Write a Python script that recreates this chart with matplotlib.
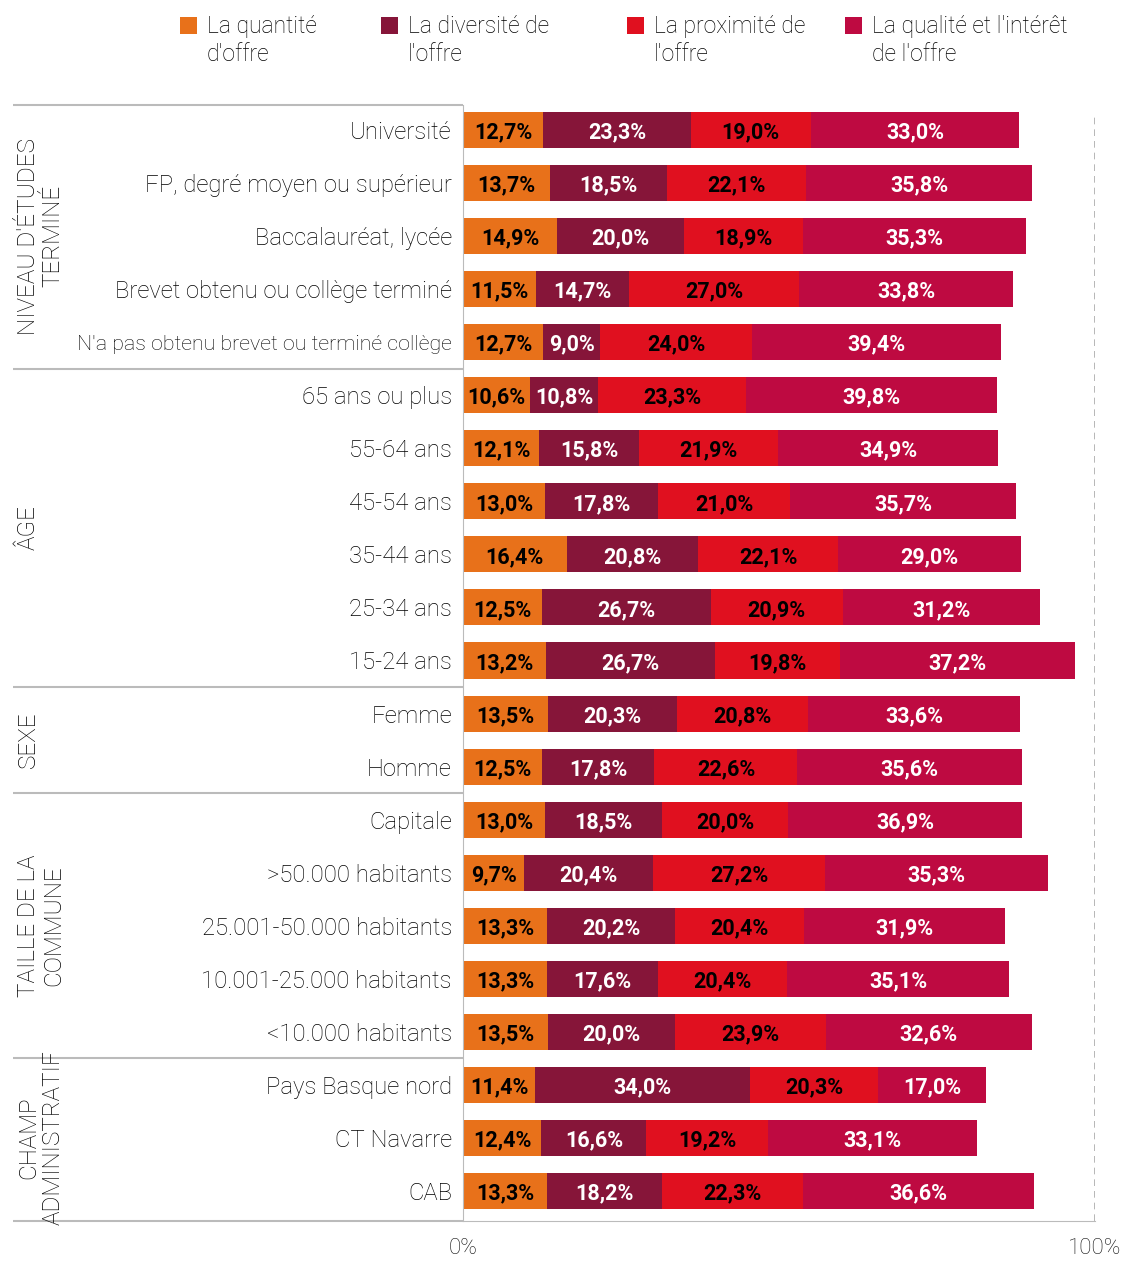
import matplotlib.pyplot as plt
from matplotlib.patches import Rectangle

categories = ["Université", "FP, degré moyen ou supérieur", "Baccalauréat, lycée",
              "Brevet obtenu ou collège terminé", "N'a pas obtenu brevet ou terminé collège",
              "65 ans ou plus", "55-64 ans", "45-54 ans", "35-44 ans", "25-34 ans", "15-24 ans",
              "Femme", "Homme",
              "Capitale", ">50.000 habitants", "25.001-50.000 habitants",
              "10.001-25.000 habitants", "<10.000 habitants",
              "Pays Basque nord", "CT Navarre", "CAB"]

quantite = [12.7, 13.7, 14.9, 11.5, 12.7, 10.6, 12.1, 13.0, 16.4, 12.5, 13.2,
            13.5, 12.5, 13.0, 9.7, 13.3, 13.3, 13.5, 11.4, 12.4, 13.3]
diversite = [23.3, 18.5, 20.0, 14.7, 9.0, 10.8, 15.8, 17.8, 20.8, 26.7, 26.7,
             20.3, 17.8, 18.5, 20.4, 20.2, 17.6, 20.0, 34.0, 16.6, 18.2]
proximite = [19.0, 22.1, 18.9, 27.0, 24.0, 23.3, 21.9, 21.0, 22.1, 20.9, 19.8,
             20.8, 22.6, 20.0, 27.2, 20.4, 20.4, 23.9, 20.3, 19.2, 22.3]
qualite = [33.0, 35.8, 35.3, 33.8, 39.4, 39.8, 34.9, 35.7, 29.0, 31.2, 37.2,
           33.6, 35.6, 36.9, 35.3, 31.9, 35.1, 32.6, 17.0, 33.1, 36.6]

series_names = ["La quantité\nd'offre", "La diversité de\nl'offre",
                "La proximité de\nl'offre", "La qualité et l'intérêt\nde l'offre"]
colors = ["#E8711A", "#861539", "#E0101F", "#BE0A41"]
text_colors = ["black", "white", "black", "white"]

groups = ["NIVEAU D'ÉTUDES\nTERMINÉ", "ÂGE", "SEXE", "TAILLE DE LA\nCOMMUNE", "CHAMP\nADMINISTRATIF"]
group_sizes = [5, 6, 2, 5, 3]

plt.rcParams['font.family'] = ['Roboto', 'DejaVu Sans']

fig = plt.figure(figsize=(11.27, 12.61), dpi=100)
W, H = 1127, 1261
ax = fig.add_axes([463 / W, 1 - 1221 / H, 632 / W, (1221 - 105) / H])

n = len(categories)
y = list(range(n))
left = [0] * n
for vals, col, tcol in zip([quantite, diversite, proximite, qualite], colors, text_colors):
    ax.barh(y, vals, left=left, height=0.68, color=col, edgecolor='none')
    for i, v in enumerate(vals):
        ax.text(left[i] + v / 2, i, f"{v:.1f}%".replace('.', ','), ha='center',
                va='center_baseline', color=tcol, fontsize=15.5, fontweight='bold')
    left = [l + v for l, v in zip(left, vals)]

ax.set_xlim(0, 100)
ax.set_ylim(20 + 30 / 53, -25 / 53)
ax.set_yticks(y)
ax.set_yticklabels(categories, fontsize=17.2, fontweight='light', color='#000000')
ax.get_yticklabels()[4].set_fontsize(15.4)
ax.tick_params(axis='y', length=0, pad=8)
ax.set_xticks([0, 100])
ax.set_xticklabels(["0%", "100%"], fontsize=16, fontweight='light', color='#111111')
ax.tick_params(axis='x', length=0, pad=12)

for s in ['top', 'right']:
    ax.spines[s].set_visible(False)
ax.spines['left'].set_color('#bbbbbb')
ax.spines['bottom'].set_color('#bbbbbb')
ax.axvline(100, ymin=0, ymax=0.99, color='#aaaaaa', linestyle=(0, (4, 3)), linewidth=1.2)

# group separators and labels
xleft = -450 / 632 * 100
start = 0
ax.hlines(-25 / 53, xleft, 0, color='#bbbbbb', linewidth=1.5, clip_on=False)
for g, size in zip(groups, group_sizes):
    end = start + size
    ysep = end - 0.5 if end < n else 20 + 30 / 53
    ax.hlines(ysep, xleft, 0, color='#bbbbbb', linewidth=1.5, clip_on=False)
    ax.text(-446 / 632 * 100, (start + end - 1) / 2, g, rotation=90, ha='left', va='center',
            multialignment='center', fontsize=17.5, fontweight='light', color='#000000',
            linespacing=1.1, clip_on=False)
    start = end

# legend drawn by hand so the squares line up with the first text line
leg_x = [180, 381, 627, 845]
for lx, name, col in zip(leg_x, series_names, colors):
    fig.patches.append(Rectangle((lx / W, 1 - 34 / H), 17 / W, 17 / H,
                                 transform=fig.transFigure, facecolor=col, edgecolor='none'))
    fig.text((lx + 27) / W, 1 - 15 / H, name, ha='left', va='top', fontsize=16.5,
             fontweight='light', color='#000000', linespacing=1.3)

fig.savefig('out.png', dpi=100)
